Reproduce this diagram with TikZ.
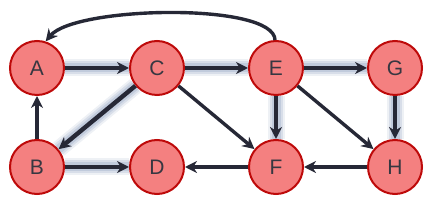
\documentclass[tikz,border=0pt]{standalone}
\usepackage{fontspec}
\setmainfont{Liberation Sans}
\usetikzlibrary{arrows.meta}
\definecolor{nodefill}{RGB}{244,128,128}
\definecolor{nodeborder}{RGB}{190,10,10}
\definecolor{edgecol}{RGB}{38,40,54}
\definecolor{textcol}{RGB}{55,55,65}
\definecolor{glowcol}{RGB}{140,158,190}
\tikzset{
  vert/.style={circle, fill=nodefill, draw=nodeborder, line width=2pt, minimum size=54pt, inner sep=0pt, text=textcol, font=\fontsize{21}{21}\selectfont},
  edge/.style={draw=edgecol, line width=3.4pt, -{Stealth[length=12pt,width=12pt]}},
  glowedge/.style={edge, line width=4.4pt,
    preaction={draw=glowcol, -, line width=17pt, opacity=0.15},
    preaction={draw=glowcol, -, line width=13pt, opacity=0.22},
    preaction={draw=glowcol, -, line width=9pt, opacity=0.3}}
}
\begin{document}
\begin{tikzpicture}[x=1pt,y=-1pt]
\useasboundingbox (0,0) rectangle (434,205);
\coordinate (pA) at (37,68);
\coordinate (pC) at (157,68);
\coordinate (pE) at (276,68);
\coordinate (pG) at (395,68);
\coordinate (pB) at (37,167);
\coordinate (pD) at (157,167);
\coordinate (pF) at (276,167);
\coordinate (pH) at (395,167);
\node[vert] (A) at (pA) {A};
\node[vert] (C) at (pC) {C};
\node[vert] (E) at (pE) {E};
\node[vert] (G) at (pG) {G};
\node[vert] (B) at (pB) {B};
\node[vert] (D) at (pD) {D};
\node[vert] (F) at (pF) {F};
\node[vert] (H) at (pH) {H};
% thick glowing edges
\draw[glowedge] (A) -- (C);
\draw[glowedge] (C) -- (E);
\draw[glowedge] (E) -- (G);
\draw[glowedge] (E) -- (F);
\draw[glowedge] (G) -- (H);
\draw[glowedge] (B) -- (D);
\draw[glowedge] (C) -- (B);
% thin edges
\draw[edge] (B) -- (A);
\draw[edge] (C) -- (F);
\draw[edge] (E) -- (H);
\draw[edge] (H) -- (F);
\draw[edge] (F) -- (D);
\draw[edge] (E.92) .. controls (274,2) and (75,6) .. (A.72);
\end{tikzpicture}
\end{document}
